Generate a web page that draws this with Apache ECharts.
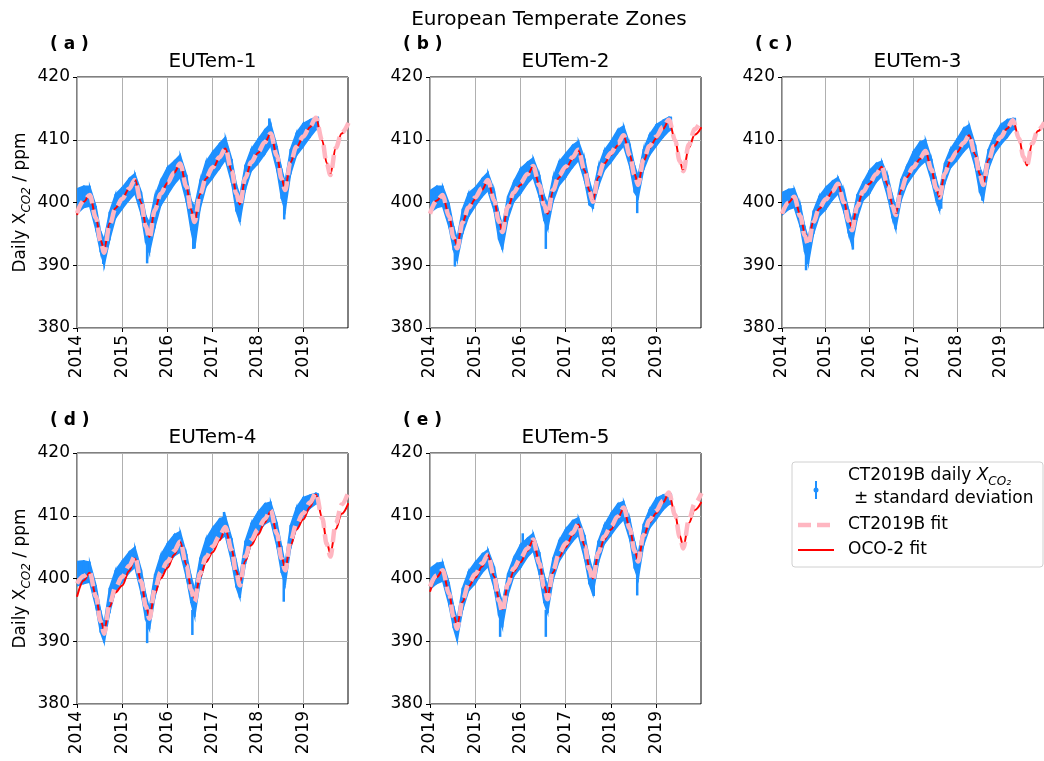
<!DOCTYPE html>
<html>
<head>
<meta charset="utf-8">
<script src="https://cdn.jsdelivr.net/npm/echarts@6/dist/echarts.min.js"></script>
<style>html,body{margin:0;padding:0;background:#fff}#c{width:1044px;height:761px}</style>
</head>
<body>
<div id="c"></div>
<script>
// ---------- DATA ----------
const fitX = [2014.0,2014.15,2014.28,2014.42,2014.52,2014.6,2014.72,2014.85,
  2015.0,2015.15,2015.28,2015.42,2015.52,2015.6,2015.72,2015.85,
  2016.0,2016.15,2016.28,2016.42,2016.52,2016.6,2016.72,2016.85,
  2017.0,2017.15,2017.28,2017.42,2017.52,2017.6,2017.72,2017.85,
  2018.0,2018.15,2018.28,2018.42,2018.52,2018.6,2018.72,2018.85,
  2019.0,2019.15,2019.28,2019.42,2019.52,2019.6,2019.72,2019.85,
  2020.0];
const blueX = [2014.0,2014.15,2014.28,2014.42,2014.52,2014.6,2014.72,2014.85,
  2015.0,2015.15,2015.28,2015.42,2015.52,2015.6,2015.72,2015.85,
  2016.0,2016.15,2016.28,2016.42,2016.52,2016.6,2016.72,2016.85,
  2017.0,2017.15,2017.28,2017.42,2017.52,2017.6,2017.72,2017.85,
  2018.0,2018.15,2018.28,2018.42,2018.52,2018.6,2018.72,2018.85,
  2019.0,2019.15,2019.28,2019.33];
const yTicks = [380, 390, 400, 410, 420];
const xTickYears = [2014, 2015, 2016, 2017, 2018, 2019];
const panelTitles = ['EUTem-1','EUTem-2','EUTem-3','EUTem-4','EUTem-5'];
const panelLabels = ['( a )','( b )','( c )','( d )','( e )'];

// CT2019B fit
const ctFitA = [398.3,400.3,401.2,397.5,393.8,392.0,396.4,399.0, 400.6,402.2,403.6,399.9,396.2,394.3,398.8,401.4, 403.1,404.8,406.2,402.5,398.8,396.9,401.3,403.9, 405.6,407.2,408.6,405.0,401.4,399.6,403.9,406.4, 408.0,409.6,411.0,407.4,403.8,402.0,406.4,408.9, 410.5,412.1,413.5,409.9,406.2,404.4,408.7,411.1, 412.7];
const ctFitB = [398.2,400.3,401.2,397.8,394.4,392.7,396.8,399.2, 400.8,402.3,403.6,400.3,397.0,395.3,399.3,401.6, 403.1,404.5,405.8,402.7,399.6,398.1,402.0,404.3, 405.7,407.2,408.4,405.1,401.8,400.1,404.1,406.5, 407.9,409.4,410.7,407.5,404.4,402.8,406.8,409.0, 410.5,412.0,413.2,409.9,406.6,405.0,409.2,411.7, 413.2];
const ctFitC = [398.2,400.0,400.9,397.8,394.7,393.2,396.9,399.1, 400.5,401.8,403.0,400.0,397.1,395.6,399.4,401.7, 403.1,404.5,405.7,402.6,399.5,398.0,401.9,404.1, 405.6,407.0,408.2,405.2,402.3,400.8,404.6,406.7, 408.1,409.5,410.7,407.5,404.4,402.8,406.7,409.0, 410.4,411.9,413.1,410.2,407.3,405.9,409.4,411.5, 412.8];
const ctFitD = [399.2,400.4,401.0,397.1,393.2,391.2,395.9,398.6, 400.3,402.0,403.5,399.5,395.6,393.6,398.3,401.0, 402.7,404.4,405.9,402.1,398.2,396.3,400.8,403.4, 405.1,406.8,408.2,404.5,400.8,398.9,403.5,406.1, 407.8,409.5,410.9,407.1,403.2,401.3,406.0,408.7, 410.4,412.1,413.6,409.6,405.5,403.5,408.8,411.8, 413.8];
const ctFitE = [398.7,400.5,401.3,397.6,393.9,392.0,396.5,399.1, 400.7,402.4,403.8,400.2,396.5,394.7,399.1,401.6, 403.2,404.8,406.2,402.4,398.6,396.7,401.3,403.9, 405.6,407.3,408.7,405.1,401.5,399.7,404.1,406.7, 408.3,409.9,411.3,407.9,404.4,402.7,406.9,409.3, 410.8,412.4,413.7,410.1,406.6,404.8,409.3,411.9, 413.6];

// OCO-2 fit
const ocoFitA = [398.0,400.1,401.3,397.6,394.0,392.5,396.7,399.1, 400.6,402.2,403.7,400.0,396.4,394.5,398.9,401.4, 403.1,404.8,406.2,402.5,398.9,397.0,401.3,403.8, 405.4,407.1,408.6,405.0,401.5,399.7,403.9,406.3, 407.9,409.5,411.0,407.4,403.9,402.1,406.4,408.8, 410.4,412.0,413.5,409.9,406.3,404.5,408.7,411.0, 412.5];
const ocoFitB = [398.5,400.3,401.2,397.9,394.6,393.2,396.9,399.0, 400.5,402.0,403.5,400.3,397.1,395.5,399.2,401.3, 402.8,404.3,405.7,402.7,399.7,398.2,401.8,404.0, 405.4,406.9,408.3,405.1,401.9,400.3,404.0,406.2, 407.6,409.1,410.6,407.5,404.5,403.0,406.6,408.7, 410.2,411.7,413.1,409.9,406.6,405.0,408.7,410.8, 412.0];
const ocoFitC = [398.2,400.0,400.9,398.0,395.1,394.0,397.0,399.0, 400.3,401.7,403.0,400.1,397.3,396.1,399.5,401.6, 403.0,404.4,405.7,402.7,399.7,398.2,401.9,404.0, 405.4,406.9,408.2,405.2,402.3,400.9,404.6,406.6, 408.0,409.4,410.7,407.6,404.5,403.0,406.8,409.0, 410.3,411.8,413.1,410.2,407.3,405.9,409.4,411.4, 412.7];
const ocoFitD = [397.1,399.7,400.9,397.2,393.5,391.8,395.5,397.8, 398.9,401.2,403.2,399.5,395.8,393.9,397.6,400.0, 401.7,403.8,405.8,402.2,398.5,396.8,400.2,402.6, 404.2,406.1,407.9,404.6,401.2,399.5,402.8,405.3, 407.0,408.9,410.7,407.2,403.6,401.6,405.3,407.8, 409.4,411.4,413.4,409.7,405.8,404.0,407.9,410.3, 412.0];
const ocoFitE = [397.9,400.2,401.3,397.7,394.2,392.6,396.3,398.7, 400.1,401.9,403.8,400.3,396.8,395.1,398.8,401.1, 402.6,404.4,406.1,402.5,398.9,397.3,401.0,403.4, 405.0,406.9,408.6,405.2,401.8,400.0,403.8,406.2, 407.8,409.6,411.2,407.9,404.6,402.9,406.6,408.9, 410.4,412.1,413.6,410.1,406.8,405.1,408.8,410.9, 412.2];

// CT2019B daily XCO2 +/- standard deviation: lower / upper envelope
const blueLowA = [398.2,399.2,399.4,395.6,392.1,390.0,394.0,397.5, 399.0,400.4,401.4,398.1,393.6,392.0,396.0,399.5, 401.2,402.9,404.0,400.1,395.6,392.7,399.0,402.5, 403.9,405.4,406.8,403.1,398.6,396.9,402.0,405.0, 406.2,407.7,409.1,405.1,400.6,398.7,404.5,407.5, 408.9,410.4,411.6,411.8];
const blueHighA = [402.2,402.6,402.6,399.4,395.4,394.1,398.5,401.3, 402.4,403.8,404.6,401.7,397.9,396.8,401.0,403.5, 405.6,406.6,407.6,404.4,400.4,399.3,403.5,406.5, 408.1,409.4,410.4,406.9,402.9,401.1,406.0,408.5, 410.1,411.6,412.6,409.0,405.4,403.3,408.5,411.1, 412.6,413.2,413.6,413.6];
const blueLowB = [398.4,399.2,399.4,396.1,392.4,390.7,395.0,397.7, 399.4,400.9,401.9,398.6,394.1,392.5,397.3,400.1, 401.4,403.0,404.0,400.8,397.1,395.7,400.2,402.7, 404.0,405.6,406.7,403.4,399.6,399.2,402.5,405.1, 406.4,407.9,409.0,405.6,401.6,400.7,405.2,407.5, 409.0,410.4,411.4,411.6];
const blueHighB = [401.9,402.6,402.6,399.9,396.2,394.3,399.0,401.5, 402.4,403.8,404.8,401.9,398.4,396.3,401.0,403.3, 405.4,406.4,407.1,404.4,401.2,399.8,404.0,406.5, 407.8,409.1,409.8,406.9,403.4,401.6,405.7,408.3, 409.8,411.6,412.2,409.2,405.9,404.3,408.5,410.8, 412.4,413.1,413.6,413.6];
const blueLowC = [398.0,398.9,399.2,396.1,392.1,390.2,395.0,397.8, 398.9,400.4,401.4,398.4,395.1,393.2,397.5,400.3, 401.4,403.2,404.2,400.8,397.6,395.7,400.3,402.8, 404.4,405.8,406.6,403.4,400.4,398.7,403.0,405.5, 406.7,408.1,409.0,405.6,401.6,400.3,405.3,407.7, 409.2,410.4,411.6,411.7];
const blueHighC = [401.6,402.1,402.2,399.6,396.2,394.3,398.7,401.0, 402.4,403.4,404.0,401.9,398.9,397.1,401.3,403.2, 405.1,406.2,406.6,404.2,401.2,399.3,403.7,405.8, 408.1,409.6,410.0,406.9,403.9,401.8,406.3,408.5, 410.1,411.8,412.4,409.2,405.6,404.3,408.5,410.7, 412.4,413.2,413.4,413.4];
const blueLowD = [398.8,399.2,399.4,395.4,391.4,389.8,394.5,398.1, 399.4,400.9,401.8,397.6,393.4,391.9,397.0,400.5, 402.2,403.6,404.2,400.1,396.1,393.9,399.5,403.0, 404.8,406.2,406.8,402.6,398.6,396.9,402.3,405.5, 407.4,408.7,409.2,405.1,400.9,399.0,404.8,408.0, 409.9,411.2,411.9,411.9];
const blueHighD = [402.7,402.8,402.6,398.9,394.9,392.8,398.5,401.3, 402.8,404.2,405.0,401.4,397.4,395.3,400.7,403.7, 405.6,407.0,407.5,403.9,400.4,398.3,403.3,406.3, 408.1,409.5,409.9,406.4,402.7,400.3,406.0,408.8, 410.6,411.9,412.2,408.9,405.2,402.3,408.5,411.3, 412.9,413.3,413.6,413.5];
const blueLowE = [398.3,399.2,399.6,395.8,392.1,390.1,395.0,398.0, 399.2,400.9,401.9,398.4,394.1,392.2,397.3,400.3, 401.7,403.4,404.4,400.6,396.1,394.5,399.8,402.7, 404.4,405.9,406.9,403.1,399.1,397.5,402.5,405.5, 406.9,408.4,409.4,406.1,401.6,399.9,405.3,408.0, 409.4,410.9,411.8,411.9];
const blueHighE = [401.6,402.4,402.6,399.4,395.6,393.5,398.5,401.1, 402.6,403.9,404.6,401.9,398.2,396.1,400.8,403.3, 405.4,406.4,407.2,404.2,400.6,398.8,403.3,406.0, 407.9,409.2,409.7,406.9,403.2,401.3,406.0,408.5, 410.4,411.9,412.3,409.4,405.9,403.8,408.7,411.0, 412.8,413.3,413.6,413.5];

// isolated daily values reaching beyond the band: [year, low, high]
const spikesA = [[2014.58,390.2,393.0],[2015.55,390.3,393.5],[2016.57,392.6,395.5],[2017.6,397.0,400.0],[2018.25,411.5,413.4],[2018.58,397.3,401.0]];
const spikesB = [[2014.55,389.8,393.0],[2015.6,393.5,396.0],[2016.56,392.6,397.0],[2017.6,399.0,401.5],[2018.58,398.3,402.0]];
const spikesC = [[2014.55,389.2,392.0],[2015.62,392.5,395.0],[2016.6,395.8,398.0],[2017.64,399.0,401.0],[2018.58,400.3,403.0]];
const spikesD = [[2015.55,389.7,393.0],[2016.55,391.0,395.0],[2017.25,408.5,410.6],[2017.6,397.0,400.0],[2018.57,396.3,400.0]];
const spikesE = [[2015.55,390.7,393.5],[2016.05,403.5,407.2],[2016.56,390.7,395.0],[2017.62,397.2,400.0],[2018.58,397.3,401.0]];

// ---------- CHART ----------
const FONT = 'DejaVu Sans';
const BLUE = '#1e90ff', RED = '#ff0000', PINK = '#ffb6c1';
const ctFits = [ctFitA, ctFitB, ctFitC, ctFitD, ctFitE];
const ocoFits = [ocoFitA, ocoFitB, ocoFitC, ocoFitD, ocoFitE];
const lows = [blueLowA, blueLowB, blueLowC, blueLowD, blueLowE];
const highs = [blueHighA, blueHighB, blueHighC, blueHighD, blueHighE];
const spikes = [spikesA, spikesB, spikesC, spikesD, spikesE];
const layout = [[77,77],[430,77],[782,77],[77,453],[430,453]];
const W = 271, H = 251;

const grids = [], xAxes = [], yAxes = [], series = [], graphics = [];

const yNameRich = {
  n: {fontSize: 17, fontFamily: FONT, color: '#000', lineHeight: 24},
  s: {fontSize: 12, fontFamily: FONT, fontStyle: 'italic', color: '#000', verticalAlign: 'bottom'}
};

function bandRender(lo, hi) {
  return function (params, api) {
    const i = params.dataIndex;
    const a = api.coord([blueX[i], lo[i]]);
    const b = api.coord([blueX[i], hi[i]]);
    const children = [];
    if (i < blueX.length - 1) {
      const c = api.coord([blueX[i + 1], hi[i + 1]]);
      const d = api.coord([blueX[i + 1], lo[i + 1]]);
      children.push({type: 'polygon', shape: {points: [a, b, c, d]}, style: {fill: BLUE, stroke: BLUE, lineWidth: 1.5}});
    }
    children.push({type: 'line', shape: {x1: a[0], y1: a[1], x2: b[0], y2: b[1]}, style: {stroke: BLUE, lineWidth: 2}});
    return {type: 'group', children};
  };
}
function spikeRender(params, api) {
  const a = api.coord([api.value(0), api.value(1)]);
  const b = api.coord([api.value(0), api.value(2)]);
  return {type: 'line', shape: {x1: a[0], y1: a[1], x2: b[0], y2: b[1]}, style: {stroke: BLUE, lineWidth: 2.5}};
}

for (let p = 0; p < 5; p++) {
  const [left, top] = layout[p];
  grids.push({left: left, top: top, width: W, height: H, show: true, borderColor: '#000', borderWidth: 1, backgroundColor: 'transparent'});
  xAxes.push({
    gridIndex: p, type: 'value', min: xTickYears[0], max: 2019.99, interval: 1,
    axisLine: {show: false},
    axisTick: {show: true, length: 4, lineStyle: {color: '#000'}, customValues: xTickYears},
    splitLine: {show: true, lineStyle: {color: '#b0b0b0', width: 1}},
    axisLabel: {rotate: 90, fontSize: 17, fontFamily: FONT, color: '#000', margin: 7, customValues: xTickYears,
      formatter: v => String(Math.round(v))}
  });
  yAxes.push({
    gridIndex: p, type: 'value', min: yTicks[0], max: yTicks[yTicks.length - 1], interval: 10,
    axisLine: {show: false},
    axisTick: {show: true, length: 4, lineStyle: {color: '#000'}},
    splitLine: {show: true, lineStyle: {color: '#b0b0b0', width: 1}},
    axisLabel: {fontSize: 17, fontFamily: FONT, color: '#000', margin: 7},
    name: (p === 0 || p === 3) ? '{n|Daily X}{s|CO2}{n| / ppm}' : '',
    nameLocation: 'middle', nameGap: 44, nameRotate: 90,
    nameTextStyle: {rich: yNameRich}
  });
  const lo = lows[p], hi = highs[p];
  series.push({
    type: 'custom', xAxisIndex: p, yAxisIndex: p, clip: true, z: 1, silent: true,
    renderItem: bandRender(lo, hi),
    encode: {x: 0, y: [1, 2]},
    data: blueX.map((x, i) => [x, lo[i], hi[i]])
  });
  series.push({
    type: 'custom', xAxisIndex: p, yAxisIndex: p, clip: true, z: 2, silent: true,
    renderItem: spikeRender, encode: {x: 0, y: [1, 2]},
    data: spikes[p]
  });
  series.push({
    type: 'line', xAxisIndex: p, yAxisIndex: p, z: 3, symbol: 'none', smooth: 0.35, smoothMonotone: 'x', silent: true,
    lineStyle: {color: RED, width: 2},
    data: fitX.map((x, i) => [x, ocoFits[p][i]])
  });
  series.push({
    type: 'line', xAxisIndex: p, yAxisIndex: p, z: 4, symbol: 'none', smooth: 0.35, smoothMonotone: 'x', silent: true,
    lineStyle: {color: PINK, width: 4.5, type: [13, 6]},
    data: fitX.map((x, i) => [x, ctFits[p][i]])
  });
  graphics.push({type: 'text', x: left + W / 2, y: top - 15, silent: true,
    style: {text: panelTitles[p], font: '20px "DejaVu Sans"', fill: '#000', textAlign: 'center', textVerticalAlign: 'middle'}});
  graphics.push({type: 'text', x: left - 27, y: top - 32, silent: true,
    style: {text: panelLabels[p], font: 'bold 17px "DejaVu Sans"', fill: '#000', textAlign: 'left', textVerticalAlign: 'middle'}});
}

// suptitle
graphics.push({type: 'text', x: 549, y: 20, silent: true,
  style: {text: 'European Temperate Zones', font: '20px "DejaVu Sans"', fill: '#000', textAlign: 'center', textVerticalAlign: 'middle'}});

// legend
graphics.push({type: 'rect', shape: {x: 792, y: 462, width: 251, height: 105, r: 3}, silent: true,
  style: {fill: 'rgba(255,255,255,0.8)', stroke: '#d0d0d0', lineWidth: 1}});
graphics.push({type: 'line', shape: {x1: 816, y1: 481, x2: 816, y2: 499}, silent: true, style: {stroke: BLUE, lineWidth: 2}});
graphics.push({type: 'circle', shape: {cx: 816, cy: 490, r: 2.5}, silent: true, style: {fill: BLUE}});
graphics.push({type: 'text', x: 848, y: 476, silent: true,
  style: {text: '{n|CT2019B daily }{i|X}{s|CO₂}',
    rich: {n: {fontSize: 17, fontFamily: FONT, fill: '#000', lineHeight: 24},
           i: {fontSize: 17, fontFamily: FONT, fontStyle: 'italic', fill: '#000', lineHeight: 24},
           s: {fontSize: 12, fontFamily: FONT, fontStyle: 'italic', fill: '#000', verticalAlign: 'bottom'}},
    textAlign: 'left', textVerticalAlign: 'middle'}});
graphics.push({type: 'text', x: 854, y: 499, silent: true,
  style: {text: '± standard deviation', font: '17px "DejaVu Sans"', fill: '#000', textAlign: 'left', textVerticalAlign: 'middle'}});
graphics.push({type: 'line', shape: {x1: 798, y1: 525, x2: 834, y2: 525}, silent: true, style: {stroke: PINK, lineWidth: 4.5, lineDash: [13, 6]}});
graphics.push({type: 'text', x: 848, y: 525, silent: true,
  style: {text: 'CT2019B fit', font: '17px "DejaVu Sans"', fill: '#000', textAlign: 'left', textVerticalAlign: 'middle'}});
graphics.push({type: 'line', shape: {x1: 798, y1: 550, x2: 834, y2: 550}, silent: true, style: {stroke: RED, lineWidth: 2}});
graphics.push({type: 'text', x: 848, y: 550, silent: true,
  style: {text: 'OCO-2 fit', font: '17px "DejaVu Sans"', fill: '#000', textAlign: 'left', textVerticalAlign: 'middle'}});

const chart = echarts.init(document.getElementById('c'), null, {renderer: 'canvas'});
chart.setOption({
  backgroundColor: '#fff',
  animation: false,
  textStyle: {fontFamily: FONT},
  grid: grids, xAxis: xAxes, yAxis: yAxes, series: series,
  graphic: graphics
});
</script>
</body>
</html>
